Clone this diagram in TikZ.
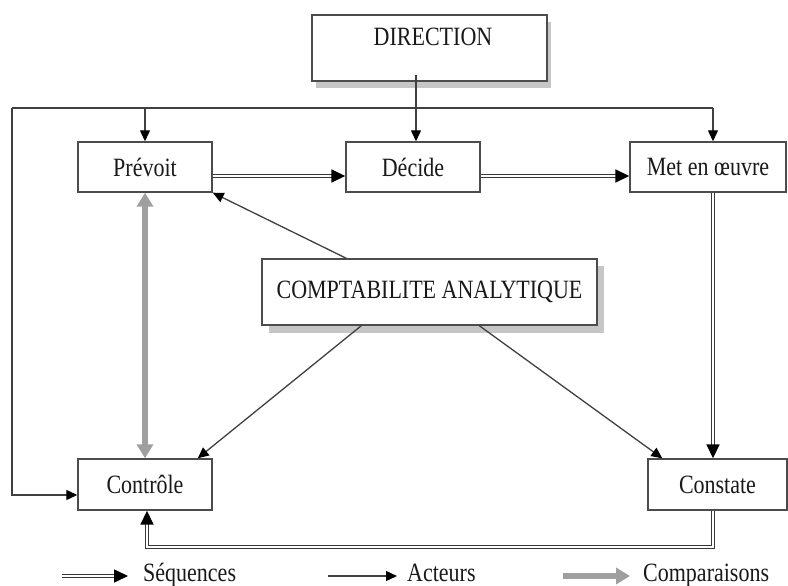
\documentclass[tikz,border=0pt]{standalone}
\usepackage{fontspec}
\setmainfont{Liberation Serif}
\usepackage{graphicx}
\usetikzlibrary{arrows.meta,calc}
\newcommand\vst[1]{\scalebox{1}[1.2]{#1}}
\begin{document}
\begin{tikzpicture}[x=1pt,y=-1pt,
  box/.style={draw=black!70, line width=1.4pt, fill=white, inner sep=0pt,
    font=\fontsize{22}{26}\selectfont, text=black!90},
  txt/.style={inner sep=0pt, font=\fontsize{22}{26}\selectfont, text=black!90},
  shade/.style={fill=gray!45, draw=none},
  ln/.style={draw=black!75, line width=1.3pt},
  act/.style={ln, -{Triangle[length=11pt,width=10pt,color=black]}},
  seq/.style={draw=black!78, line width=1.7pt, double=white, double distance=1.3pt,
    line join=miter, -{Triangle[length=14pt,width=13pt,color=black]}},
  cmp/.style={draw=gray!75, line width=6pt,
    {Triangle[length=14pt,width=16pt,color=gray!75]}-{Triangle[length=14pt,width=16pt,color=gray!75]}},
  cmpone/.style={draw=gray!75, line width=6pt, -{Triangle[length=14pt,width=16pt,color=gray!75]}}
]
\useasboundingbox (0,0) rectangle (788,586);

% shadows
\fill[shade] (316,22) rectangle (551,88);
\fill[shade] (269,266) rectangle (604,333);

% boxes
\node[box, minimum width=235pt, minimum height=66pt] (dir) at (429.5,48) {};
\node[txt] (dirlbl) at (433,37) {\vst{DIRECTION}};
\node[box, minimum width=134pt, minimum height=50pt] (prevoit) at (145,167) {\vst{Prévoit}};
\node[box, minimum width=134pt, minimum height=50pt] (decide) at (413,167) {\vst{Décide}};
\node[box, minimum width=156pt, minimum height=50pt] (met) at (708,167) {\vst{Met en œuvre}};
\node[box, minimum width=335pt, minimum height=66pt] (compta) at (429.5,292) {\vst{COMPTABILITE ANALYTIQUE}};
\node[box, minimum width=134pt, minimum height=51pt] (controle) at (145,484.5) {\vst{Contrôle}};
\node[box, minimum width=139pt, minimum height=51pt] (constate) at (717.5,484.5) {\vst{Constate}};

% direction lines
\coordinate (d1) at (416,75);
\coordinate (tl) at (12,108);
\coordinate (tr) at (713,108);
\coordinate (br) at (713,547);
\draw[ln] (tl) -- (tr);
\draw[act] (d1) -- (d1 |- decide.north);
\draw[act] (prevoit.north |- tl) -- (prevoit.north);
\draw[act] (tr) -- (tr |- met.north);
\draw[act] (tl) |- ([yshift=-10.5pt]controle.west);

% sequences
\draw[seq] ([yshift=-9pt]prevoit.east) -- ([yshift=-9pt]decide.west);
\draw[seq] ([yshift=-9pt]decide.east) -- ([yshift=-9pt]met.west);
\draw[seq] (tr |- met.south) -- (tr |- constate.north);
\draw[seq] (tr |- constate.south) -- (br) -| ([xshift=2pt]controle.south);

% comparisons
\draw[cmp] (prevoit.south) -- (controle.north);

% actors
\draw[act] ([xshift=85pt]compta.north west) -- (prevoit.south east);
\draw[act] ([xshift=100pt]compta.south west) -- ([xshift=-15pt]controle.north east);
\draw[act] ([xshift=218pt]compta.south west) -- ([xshift=15pt]constate.north west);

% legend
\node[txt, anchor=base west] (lseq) at (143,581) {\vst{Séquences}};
\node[txt, anchor=base west] (lact) at (407,581) {\vst{Acteurs}};
\node[txt, anchor=base west] (lcmp) at (643,581) {\vst{Comparaisons}};
\coordinate (lseqs) at (62,576);
\coordinate (lacts) at (328,576);
\coordinate (lcmps) at (563,576);
\draw[seq] (lseqs) -- (lseqs -| {$(lseq.west)+(-15,0)$});
\draw[act] (lacts) -- (lacts -| {$(lact.west)+(-10,0)$});
\draw[cmpone] (lcmps) -- (lcmps -| {$(lcmp.west)+(-13,0)$});
\end{tikzpicture}
\end{document}
